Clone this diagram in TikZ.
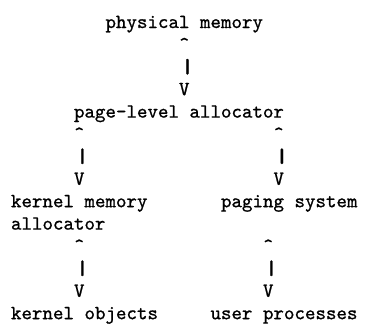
\documentclass[tikz,border=0pt]{standalone}
\usepackage{fontspec}
\usepackage{graphicx}
% slightly heavier typewriter face
\newfontfamily\ttheavy{lmmono10-regular.otf}[FakeBold=0.9]
% sturdier vertical bar
\newcommand{\thickbar}{\scalebox{1.6}[1]{\textbar}}
\begin{document}
\begin{tikzpicture}[
  ln/.style={font=\ttheavy\fontsize{10pt}{12pt}\selectfont, anchor=base west, inner sep=0pt, outer sep=0pt}
]
\useasboundingbox (0,0) rectangle (182.5pt,-163.5pt);
% character grid: one column = 5.25pt, one row = 11.2pt
\begin{scope}[shift={(5.5pt,-14pt)}, x=5.25pt, y=-11.2pt]
  \node[ln] (phys)  at (9,0)  {physical memory};
  \node[ln] (pmup)  at (16,1) {\textasciicircum};
  \node[ln] (pmbar) at (16,2) {\thickbar};
  \node[ln] (pmdn)  at (16,3) {V};
  \node[ln] (page)  at (6,4)  {page-level allocator};
  \node[ln] (kaup)  at (6,5)  {\textasciicircum};
  \node[ln] (kabar) at (6,6)  {\thickbar};
  \node[ln] (kadn)  at (6,7)  {V};
  \node[ln] (psup)  at (25,5) {\textasciicircum};
  \node[ln] (psbar) at (25,6) {\thickbar};
  \node[ln] (psdn)  at (25,7) {V};
  \node[ln] (kmem)  at (0,8)  {kernel memory};
  \node[ln] (kmem2) at (0,9)  {allocator};
  \node[ln] (pgsys) at (20,8) {paging system};
  \node[ln] (koup)  at (6,10) {\textasciicircum};
  \node[ln] (kobar) at (6,11) {\thickbar};
  \node[ln] (kodn)  at (6,12) {V};
  \node[ln] (upup)  at (24,10) {\textasciicircum};
  \node[ln] (upbar) at (24,11) {\thickbar};
  \node[ln] (updn)  at (24,12) {V};
  \node[ln] (kobj)  at (0,13) {kernel objects};
  \node[ln] (uproc) at (19,13) {user processes};
\end{scope}
\end{tikzpicture}
\end{document}
